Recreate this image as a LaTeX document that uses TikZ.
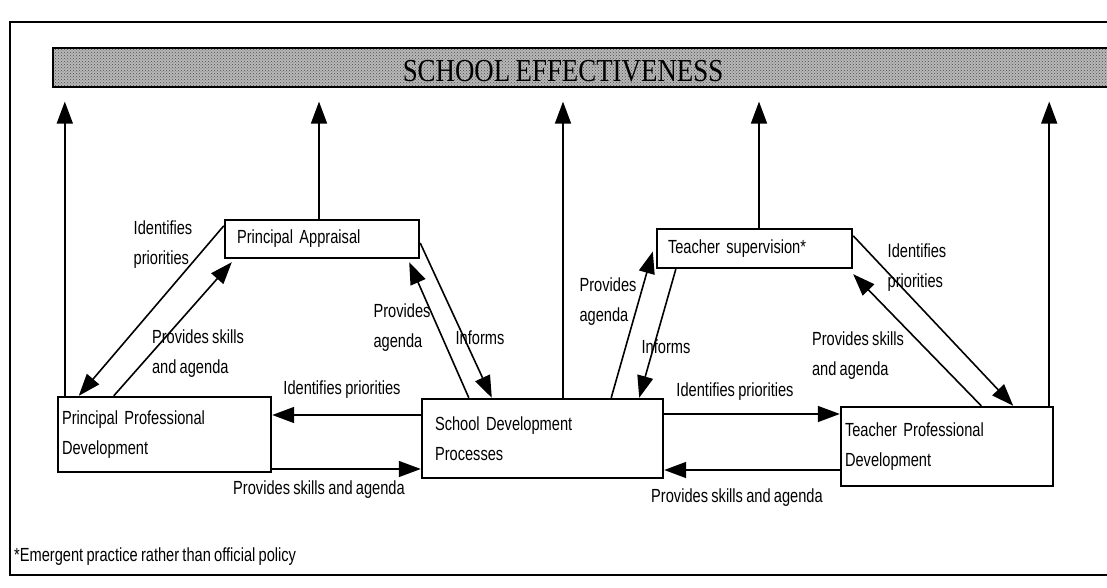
\documentclass[tikz,border=0pt]{standalone}
\usepackage{fontspec}
\setmainfont{Liberation Sans}[FakeStretch=0.77, WordSpace=0.8]
\newfontfamily\barfont{Liberation Serif}[FakeStretch=0.84, WordSpace=0.8]
\usetikzlibrary{arrows.meta,patterns}

\begin{document}
\begin{tikzpicture}[x=1pt,y=1pt,
  unitbox/.style={draw, line width=2.4pt, align=left, inner ysep=0pt, font=\fontsize{19}{30}\selectfont},
  note/.style={align=left, inner sep=0pt, font=\fontsize{19}{30}\selectfont},
  flow/.style={line width=1.6pt, -{Triangle[length=22pt,width=16pt]}},
  effbar/.style={draw, line width=1.2pt, preaction={fill=black!28}, pattern=crosshatch dots, pattern color=black!70}]
\useasboundingbox (0,0) rectangle (1107,588);
% Drawing frame and bar
\draw[line width=2.6pt] (1107,566) -- (10,566) -- (10,13) -- (1107,13);
\node[effbar, minimum width=1060pt, minimum height=39pt, inner sep=0pt] (bar) at (583,520.5) {};
\node[font=\barfont\fontsize{32}{32}\selectfont, inner sep=0pt] (eff) at (563,517) {SCHOOL EFFECTIVENESS};
% Done with bar; drawing boxes
\node[unitbox, text width=170pt, inner xsep=12pt, minimum height=38pt] (pa) at (322,349) {Principal Appraisal};
\node[unitbox, text width=173pt, inner xsep=11pt, minimum height=39pt] (ts) at (754.5,339.5) {Teacher supervision*};
\node[unitbox, text width=205pt, inner xsep=4pt, minimum height=75pt] (ppd) at (164.5,153.5) {Principal Professional\\Development};
\node[unitbox, text width=215pt, inner xsep=13pt, minimum height=79pt] (sdp) at (542.5,149.5) {School Development\\Processes};
\node[unitbox, text width=204pt, inner xsep=4pt, minimum height=79pt] (tpd) at (947,141.5) {Teacher Professional\\Development};
% Done with boxes; drawing arrows up to the bar
\draw[flow, shorten >=14pt] ([xshift=8pt]ppd.north west) -- ([xshift=8pt]ppd.north west |- bar.south);
\draw[flow, shorten >=14pt] ([xshift=-3pt]pa.north) -- ([xshift=-3pt]pa.north |- bar.south);
\draw[flow, shorten >=14pt] ([xshift=20.5pt]sdp.north) -- ([xshift=20.5pt]sdp.north |- bar.south);
\draw[flow, shorten >=14pt] ([xshift=4.5pt]ts.north) -- ([xshift=4.5pt]ts.north |- bar.south);
\draw[flow, shorten >=14pt] ([xshift=-5pt]tpd.north east) -- ([xshift=-5pt]tpd.north east |- bar.south);
% Left triangle: pa, ppd, sdp
\draw[flow] ([yshift=-7pt]pa.north west) -- ([xshift=22pt]ppd.north west);
\draw[flow] ([xshift=57pt]ppd.north west) -- ([xshift=8pt,yshift=-3pt]pa.south west);
\draw[flow] ([xshift=48pt]sdp.north west) -- ([xshift=-11pt,yshift=-3pt]pa.south east);
\draw[flow] ([yshift=-4pt]pa.east) -- ([xshift=71pt]sdp.north west);
% Right triangle: ts, sdp, tpd
\draw[flow] ([xshift=-53pt]sdp.north east) -- ([xshift=-3pt,yshift=-3pt]ts.west);
\draw[flow] ([xshift=20pt]ts.south west) -- ([xshift=-25pt]sdp.north east);
\draw[flow] ([xshift=-73pt]tpd.north east) -- ([yshift=-5pt]ts.south east);
\draw[flow] ([yshift=-8pt]ts.north east) -- ([xshift=-41pt]tpd.north east);
% Bottom row
\draw[flow] ([yshift=23.5pt]sdp.west) -- ([yshift=23.5pt]sdp.west -| ppd.east);
\draw[flow] ([yshift=-34.5pt]ppd.east) -- ([yshift=-34.5pt]ppd.east -| sdp.west);
\draw[flow] ([yshift=24.5pt]sdp.east) -- ([yshift=24.5pt]sdp.east -| tpd.west);
\draw[flow] ([yshift=-23.5pt]tpd.west) -- ([yshift=-23.5pt]tpd.west -| sdp.east);
% Done with arrows; drawing labels
\node[note] (l1) at (163,343) {Identifies\\priorities};
\node[note] (l2) at (198,234) {Provides skills\\and agenda};
\node[note] (l3) at (402,260) {Provides\\agenda};
\node[note] (l4) at (480,250) {Informs};
\node[note] (l5) at (608,286) {Provides\\agenda};
\node[note] (l6) at (666,241) {Informs};
\node[note] (l7) at (858,232) {Provides skills\\and agenda};
\node[note] (l8) at (917,320) {Identifies\\priorities};
\node[note] (l9) at (342,198) {Identifies priorities};
\node[note] (l10) at (319,98) {Provides skills and agenda};
\node[note] (l11) at (735,196) {Identifies priorities};
\node[note] (l12) at (737,90) {Provides skills and agenda};
\node[note, anchor=west] (fn) at (14,31) {*Emergent practice rather than official policy};
% Done with labels
\end{tikzpicture}
\end{document}
